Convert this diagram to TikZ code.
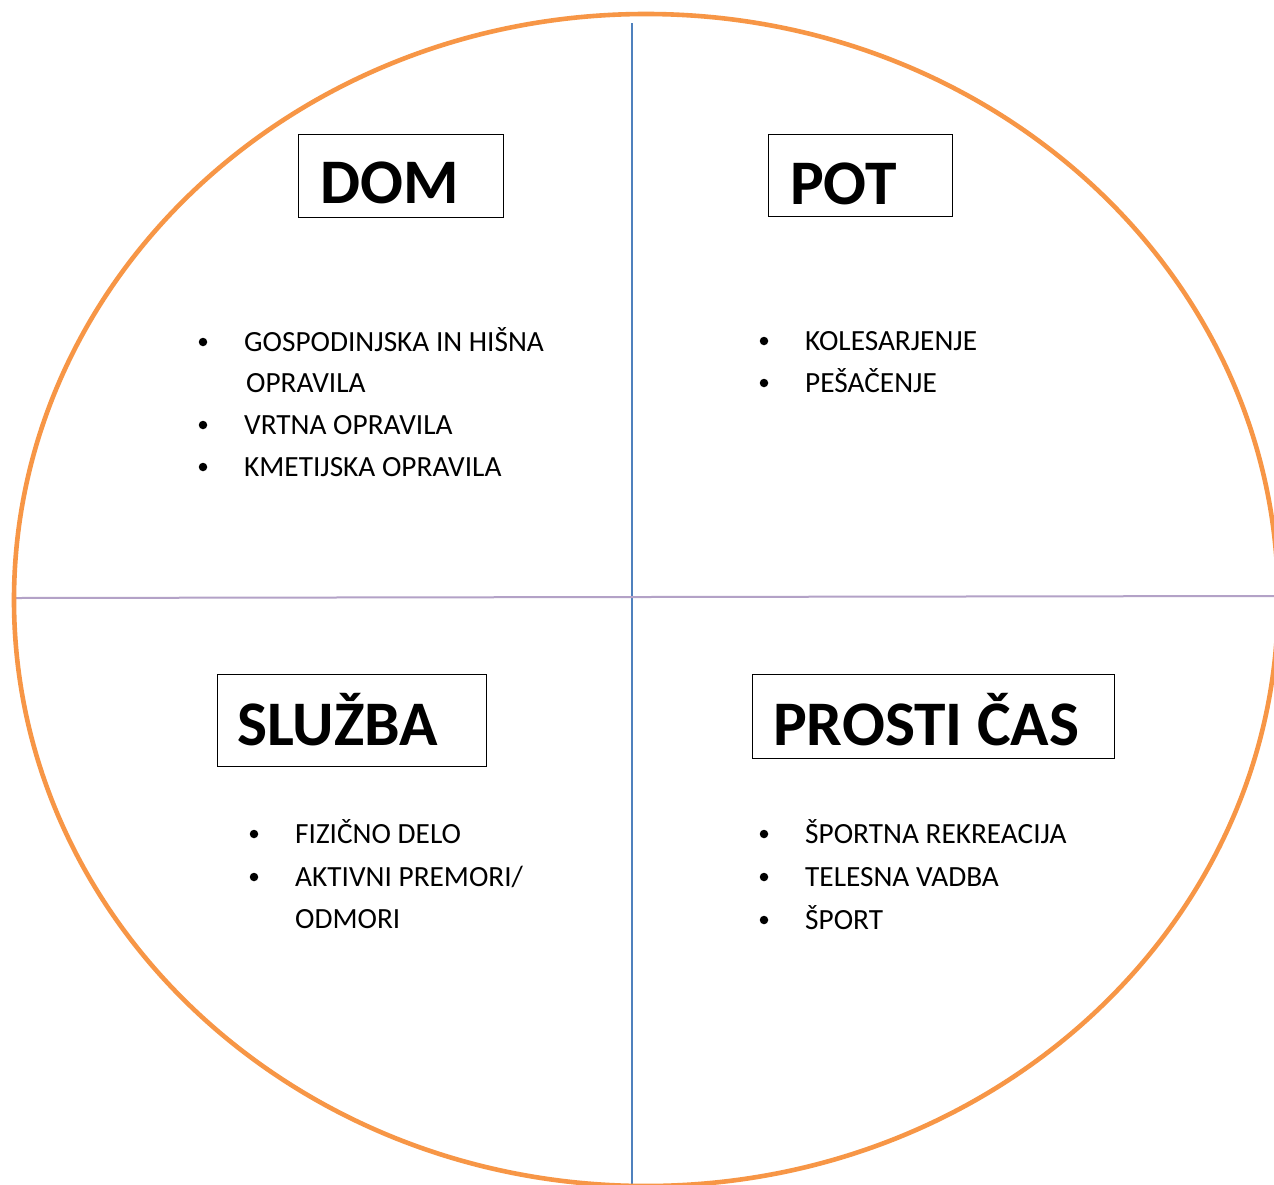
\documentclass[tikz,border=0pt]{standalone}
\usepackage{fontspec}
\setmainfont{Carlito}
\begin{document}
\begin{tikzpicture}[x=1pt,y=-1pt,
  ring/.style={draw=ringorange, line width=4.6pt},
  vaxis/.style={draw=axisblue, line width=2pt},
  haxis/.style={draw=axislilac, line width=2pt},
  titlebox/.style={draw=black, line width=0.9pt, anchor=north west, inner sep=0pt},
  title/.style={anchor=base west, inner sep=0pt, font=\fontsize{63.5}{66}\selectfont\bfseries},
  item/.style={anchor=base west, inner sep=0pt, font=\fontsize{29.3}{32}\selectfont},
  dot/.style={circle, fill=black, inner sep=0pt, minimum size=8.5pt}]
\definecolor{ringorange}{HTML}{F79646}
\definecolor{axisblue}{HTML}{4F81BD}
\definecolor{axislilac}{HTML}{B3A2C7}
\useasboundingbox (0,0) rectangle (1274,1184);
\fill[white] (0,0) rectangle (1274,1184);

\begin{scope}
  \clip (0,0) rectangle (1274,1184);
  % quadrant axes
  \coordinate (vtop) at (632,23);
  \coordinate (vbot) at (632,1184);
  \coordinate (hl) at (15,598);
  \coordinate (hr) at (1274,596);
  \draw[vaxis] (vtop) -- (vbot);
  \draw[haxis] (hl) -- (hr);
  % outer ring
  \draw[ring] (646,600) ellipse [x radius=632, y radius=586];
\end{scope}

% DOM
\node[titlebox, minimum width=205pt, minimum height=83pt] (domBox) at (298,134) {};
\node[title] (dom) at (320,203) {DOM};
\node[dot] (d1) at (203,342) {};
\node[item] (i1) at (244,351) {GOSPODINJSKA IN HIŠNA};
\node[item] (i1b) at (246,392) {OPRAVILA};
\node[dot] (d2) at (203,425) {};
\node[item] (i2) at (244,434) {VRTNA OPRAVILA};
\node[dot] (d3) at (203,467) {};
\node[item] (i3) at (244,476) {KMETIJSKA OPRAVILA};

% POT
\node[titlebox, minimum width=184pt, minimum height=82pt] (potBox) at (768,134) {};
\node[title] (pot) at (790,204) {POT};
\node[dot] (d4) at (764,341) {};
\node[item] (i4) at (805,350) {KOLESARJENJE};
\node[dot] (d5) at (764,383) {};
\node[item] (i5) at (805,392) {PEŠAČENJE};

% SLUŽBA
\node[titlebox, minimum width=269pt, minimum height=92pt] (sluzbaBox) at (217,674) {};
\node[title] (sluzba) at (237,745) {SLUŽBA};
\node[dot] (d6) at (254,834) {};
\node[item] (i6) at (295,843) {FIZIČNO DELO};
\node[dot] (d7) at (254,877) {};
\node[item] (i7) at (295,886) {AKTIVNI PREMORI/};
\node[item] (i7b) at (295,928) {ODMORI};

% PROSTI ČAS
\node[titlebox, minimum width=362pt, minimum height=84pt] (prostiBox) at (752,674) {};
\node[title] (prosti) at (773,745) {PROSTI ČAS};
\node[dot] (d8) at (764,834) {};
\node[item] (i8) at (805,843) {ŠPORTNA REKREACIJA};
\node[dot] (d9) at (764,877) {};
\node[item] (i9) at (805,886) {TELESNA VADBA};
\node[dot] (d10) at (764,920) {};
\node[item] (i10) at (805,929) {ŠPORT};
\end{tikzpicture}
\end{document}
